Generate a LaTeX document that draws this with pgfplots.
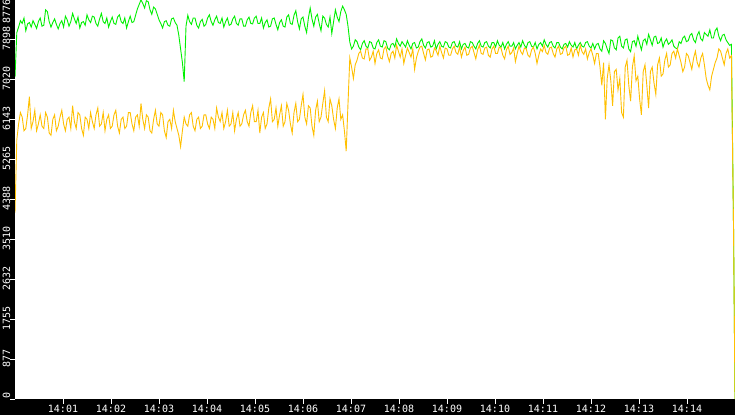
\documentclass[border=0pt]{standalone}
\usepackage{pgfplots}
\pgfplotsset{compat=1.18}
\usepackage{pgfplotstable}
\usepackage{fontspec}
\setmonofont{DejaVu Sans Mono}
\definecolor{lgreen}{HTML}{00F000}
\definecolor{lorange}{HTML}{FFC000}

% minutes after 14:00, green series, orange series
\pgfplotstableread{
x g o
0 7080 4100
0.0375 8060 5700
0.075 8180 6050
0.1125 8320 6300
0.15 8260 6200
0.1875 8380 5900
0.225 8100 5950
0.2625 8250 6250
0.3 8280 6650
0.3375 8180 5950
0.375 8320 6100
0.4125 8240 6350
0.45 8150 5900
0.4875 8300 6050
0.525 8380 6250
0.5625 8200 6000
0.6 8220 5950
0.6375 8560 6300
0.675 8520 6200
0.7125 8300 5850
0.75 8180 5800
0.7875 8280 6150
0.825 8360 6250
0.8625 8240 5900
0.9 8140 6000
0.9375 8260 6200
0.975 8320 6350
1.0125 8180 6050
1.05 8420 5900
1.0875 8340 6150
1.125 8200 6200
1.1625 8300 5950
1.2 8480 6450
1.2375 8360 6100
1.275 8260 5950
1.3125 8400 6300
1.35 8160 6250
1.3875 8280 5950
1.425 8300 5800
1.4625 8220 6200
1.5 8450 6150
1.5375 8340 5950
1.575 8280 6300
1.6125 8420 6100
1.65 8400 5950
1.6875 8260 6250
1.725 8200 6400
1.7625 8360 6000
1.8 8480 6050
1.8375 8300 6300
1.875 8260 5900
1.9125 8380 6150
1.95 8180 6250
1.9875 8300 5950
2.025 8400 6000
2.0625 8260 6250
2.1 8240 6350
2.1375 8400 6000
2.175 8450 5850
2.2125 8300 6150
2.25 8260 6200
2.2875 8380 5950
2.325 8160 6000
2.3625 8300 6300
2.4 8420 6300
2.4375 8280 6050
2.475 8300 5900
2.5125 8440 6200
2.55 8580 6250
2.5875 8680 6000
2.625 8780 6500
2.6625 8700 6150
2.7 8600 5950
2.7375 8760 6250
2.775 8740 6200
2.8125 8560 5900
2.85 8460 5850
2.8875 8620 6150
2.925 8580 6350
2.9625 8460 6050
3.0 8340 6000
3.0375 8260 6300
3.075 8160 6250
3.1125 8300 5900
3.15 8320 5750
3.1875 8220 6100
3.225 8200 6150
3.2625 8360 5950
3.3 8380 6350
3.3375 8280 6100
3.375 8220 5950
3.4125 8000 5800
3.45 7700 5550
3.4875 7400 5900
3.525 6980 6200
3.5625 8200 6050
3.6 8440 6000
3.6375 8300 6250
3.675 8240 6300
3.7125 8380 6000
3.75 8380 5900
3.7875 8220 6150
3.825 8160 6200
3.8625 8300 5950
3.9 8350 6000
3.9375 8200 6250
3.975 8240 6250
4.0125 8380 6050
4.05 8450 5950
4.0875 8300 6200
4.125 8220 6150
4.1625 8340 5950
4.2 8420 6400
4.2375 8280 6200
4.275 8260 6100
4.3125 8380 6300
4.35 8180 5950
4.3875 8300 6100
4.425 8380 6350
4.4625 8220 6000
4.5 8240 6050
4.5375 8360 6300
4.575 8420 5900
4.6125 8260 6150
4.65 8220 6300
4.6875 8360 6000
4.725 8360 6050
4.7625 8200 6250
4.8 8200 6350
4.8375 8340 6100
4.875 8400 6000
4.9125 8260 6300
4.95 8250 6450
4.9875 8380 6100
5.025 8420 6100
5.0625 8260 6350
5.1 8260 5850
5.1375 8380 6200
5.175 8160 6300
5.2125 8280 5950
5.25 8340 6050
5.2875 8180 6400
5.325 8200 6600
5.3625 8360 6100
5.4 8380 6150
5.4375 8240 6400
5.475 8120 6000
5.5125 8280 6250
5.55 8340 6450
5.5875 8200 6000
5.625 8180 6100
5.6625 8400 6500
5.7 8450 6350
5.7375 8260 6050
5.775 8240 5850
5.8125 8440 6300
5.85 8540 6500
5.8875 8300 6100
5.925 8140 6150
5.9625 8360 6450
6.0 8400 6700
6.0375 8200 6200
6.075 8060 6050
6.1125 8380 6450
6.15 8600 6400
6.1875 8360 6000
6.225 8200 5800
6.2625 8400 6350
6.3 8460 6550
6.3375 8260 6100
6.375 8100 6200
6.4125 8420 6500
6.45 8380 6780
6.4875 8240 6200
6.525 8180 6100
6.5625 8400 6600
6.6 8040 6450
6.6375 8300 6150
6.675 8560 5950
6.7125 8400 6400
6.75 8300 6600
6.7875 8520 6150
6.825 8640 6250
6.8625 8560 5900
6.9 8460 5450
6.9375 8200 6500
6.975 7850 7500
7.0125 7700 7300
7.05 7760 7050
7.0875 7900 7350
7.125 7860 7450
7.1625 7740 7600
7.2 7680 7650
7.2375 7820 7500
7.275 7880 7480
7.3125 7760 7700
7.35 7720 7700
7.3875 7860 7450
7.425 7840 7520
7.4625 7720 7650
7.5 7700 7380
7.5375 7840 7600
7.575 7900 7680
7.6125 7760 7500
7.65 7740 7480
7.6875 7880 7700
7.725 7860 7750
7.7625 7720 7550
7.8 7680 7420
7.8375 7800 7600
7.875 7820 7650
7.9125 7740 7500
7.95 7920 7780
7.9875 7820 7650
8.025 7760 7520
8.0625 7860 7700
8.1 7800 7380
8.1375 7740 7560
8.175 7880 7720
8.2125 7780 7620
8.25 7700 7520
8.2875 7820 7700
8.325 7840 7250
8.3625 7720 7500
8.4 7740 7640
8.4375 7860 7740
8.475 7920 7760
8.5125 7780 7600
8.55 7720 7460
8.5875 7840 7680
8.625 7860 7700
8.6625 7740 7520
8.7 7760 7540
8.7375 7880 7720
8.775 7700 7660
8.8125 7800 7560
8.85 7860 7760
8.8875 7760 7620
8.925 7740 7500
8.9625 7860 7720
9.0 7840 7700
9.0375 7740 7560
9.075 7720 7560
9.1125 7840 7700
9.15 7860 7760
9.1875 7760 7620
9.225 7740 7580
9.2625 7860 7740
9.3 7700 7520
9.3375 7800 7660
9.375 7820 7740
9.4125 7740 7560
9.45 7720 7580
9.4875 7860 7720
9.525 7840 7760
9.5625 7760 7620
9.6 7700 7480
9.6375 7820 7680
9.675 7880 7780
9.7125 7760 7600
9.75 7740 7580
9.7875 7840 7720
9.825 7860 7740
9.8625 7760 7560
9.9 7720 7520
9.9375 7840 7700
9.975 7840 7760
10.0125 7740 7600
10.05 7880 7600
10.0875 7780 7740
10.125 7740 7720
10.1625 7840 7560
10.2 7700 7480
10.2375 7800 7680
10.275 7860 7760
10.3125 7760 7580
10.35 7760 7620
10.3875 7840 7720
10.425 7700 7420
10.4625 7780 7600
10.5 7840 7760
10.5375 7740 7640
10.575 7880 7580
10.6125 7780 7720
10.65 7720 7700
10.6875 7840 7560
10.725 7860 7520
10.7625 7760 7680
10.8 7740 7740
10.8375 7840 7600
10.875 7700 7380
10.9125 7800 7560
10.95 7840 7700
10.9875 7760 7640
11.025 7900 7780
11.0625 7800 7620
11.1 7740 7580
11.1375 7840 7720
11.175 7860 7740
11.2125 7760 7600
11.25 7720 7520
11.2875 7840 7700
11.325 7840 7760
11.3625 7740 7580
11.4 7700 7600
11.4375 7800 7720
11.475 7820 7760
11.5125 7740 7560
11.55 7860 7580
11.5875 7780 7720
11.625 7740 7520
11.6625 7840 7680
11.7 7700 7700
11.7375 7780 7560
11.775 7840 7780
11.8125 7760 7640
11.85 7740 7580
11.8875 7840 7700
11.925 7860 7480
11.9625 7760 7620
12.0 7720 7700
12.0375 7820 7560
12.075 7700 7380
12.1125 7800 7600
12.15 7820 7600
12.1875 7700 7300
12.225 7650 6900
12.2625 7880 7400
12.3 7820 6150
12.3375 7700 7050
12.375 7600 7350
12.4125 7900 7000
12.45 7880 6450
12.4875 7720 7200
12.525 7680 7250
12.5625 7940 6800
12.6 7980 7050
12.6375 7760 6300
12.675 7720 6200
12.7125 7900 7300
12.75 7920 7450
12.7875 7700 6900
12.825 7640 6550
12.8625 7860 7300
12.9 7880 7550
12.9375 7760 7000
12.975 7980 7100
13.0125 7820 6600
13.05 7680 6250
13.0875 7880 7200
13.125 7920 7350
13.1625 7800 6900
13.2 8020 6400
13.2375 7900 7200
13.275 7780 7300
13.3125 7960 6950
13.35 7980 6700
13.3875 7820 7350
13.425 7840 7500
13.4625 7940 7100
13.5 7740 7150
13.5375 7860 7450
13.575 7920 7600
13.6125 7800 7300
13.65 7840 7350
13.6875 7900 7600
13.725 7760 7650
13.7625 7720 7500
13.8 7700 7700
13.8375 7860 7550
13.875 7820 7400
13.9125 7940 7200
13.95 7980 7300
13.9875 7860 7600
14.025 7880 7550
14.0625 8000 7400
14.1 8040 7250
14.1375 7900 7500
14.175 7840 7650
14.2125 8000 7400
14.25 8080 7300
14.2875 7920 7500
14.325 7880 7600
14.3625 8060 7350
14.4 8020 7050
14.4375 7980 6900
14.475 8120 6800
14.5125 7940 7100
14.55 7940 7250
14.5875 8100 7400
14.625 8160 7500
14.6625 7980 7700
14.7 7880 7650
14.7375 8000 7500
14.775 8020 7350
14.8125 7900 7600
14.85 7840 7700
14.8875 7780 7500
14.925 7800 7550
14.97 3700 3700
15.0 0 0
}\rates

\begin{document}
\begin{tikzpicture}[x=1pt,y=1pt]
\fill[black] (0,0) rectangle (735,415);
\useasboundingbox (0,0) rectangle (735,415);
\begin{axis}[
  at={(15pt,16pt)}, anchor=south west,
  scale only axis, width=720pt, height=399pt,
  xmin=0, xmax=15, ymin=0, ymax=8776,
  axis background/.style={fill=white},
  axis line style={draw=none},
  xtick={1,2,3,4,5,6,7,8,9,10,11,12,13,14},
  xticklabels={14:01,14:02,14:03,14:04,14:05,14:06,14:07,14:08,14:09,14:10,14:11,14:12,14:13,14:14},
  ytick={0,877.6,1755.2,2632.8,3510.4,4388,5265.6,6143.2,7020.8,7898.4,8776},
  yticklabels={\makebox[0pt][l]{0},877,1755,2632,3510,4388,5265,6143,7020,7898,\makebox[0pt][r]{8776}},
  xtick pos=bottom, ytick pos=left,
  tick align=outside, major tick length=4.5pt,
  tick style={white, line width=1pt},
  ticklabel style={font=\ttfamily\fontsize{10}{11}\selectfont, text=white, inner sep=0pt},
  yticklabel style={rotate=90, anchor=south, xshift=1pt},
  xticklabel style={anchor=north, yshift=-1.5pt},
  clip=true,
]
\addplot[lgreen, line width=0.9pt] table[x=x, y=g] {\rates};
\addplot[lorange, line width=0.9pt] table[x=x, y=o] {\rates};
\end{axis}
\end{tikzpicture}
\end{document}
